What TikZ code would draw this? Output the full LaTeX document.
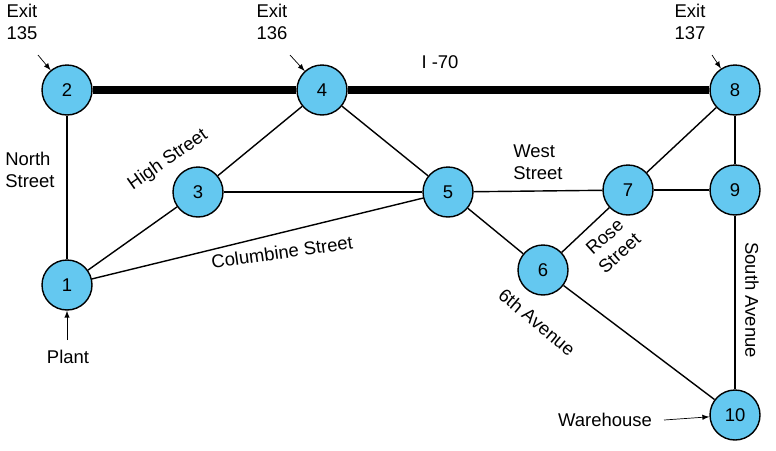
\documentclass[tikz,border=0pt]{standalone}
\usepackage{fontspec}
\setmainfont{Liberation Sans}
\usepackage{tikz}
\usetikzlibrary{arrows,positioning}
\definecolor{junction}{RGB}{100,200,240}

\tikzset{
  site/.style={circle,draw=black,thick,fill=junction,minimum size=1cm,inner sep=0pt,font=\fontsize{10.5}{12}\selectfont},
  road/.style={thick},
  highway/.style={line width=4pt},
  tag/.style={font=\fontsize{10.5}{12.5}\selectfont,align=left,inner sep=1pt},
  pointer/.style={-latex}
}

\begin{document}
\begin{tikzpicture}[x=0.02cm,y=-0.02cm]
    \useasboundingbox (0,0) rectangle (776,450);
    % junctions
    \node[site] (n1) at (67,285) {1};
    \node[site] (n2) at (67,90) {2};
    \node[site] (n3) at (198,192) {3};
    \node[site] (n4) at (322,90) {4};
    \node[site] (n5) at (448,192) {5};
    \node[site] (n6) at (543,270) {6};
    \node[site] (n7) at (628,190) {7};
    \node[site] (n8) at (735,90) {8};
    \node[site] (n9) at (735,190) {9};
    \node[site] (n10) at (735,415) {10};
    % roads
    \draw[highway] (n2) -- (n4);
    \draw[highway] (n4) -- (n8);
    \draw[road] (n1) -- (n2);
    \draw[road] (n1) -- (n3);
    \draw[road] (n1) -- (n5);
    \draw[road] (n3) -- (n4);
    \draw[road] (n3) -- (n5);
    \draw[road] (n4) -- (n5);
    \draw[road] (n5) -- (n7);
    \draw[road] (n5) -- (n6);
    \draw[road] (n6) -- (n7);
    \draw[road] (n6) -- (n10);
    \draw[road] (n7) -- (n8);
    \draw[road] (n7) -- (n9);
    \draw[road] (n8) -- (n9);
    \draw[road] (n9) -- (n10);
    % labels
    \node[tag] (x135) at (22,22) {Exit\\135};
    \node[tag] (x136) at (272,22) {Exit\\136};
    \node[tag] (x137) at (690,22) {Exit\\137};
    \coordinate (a135) at (38,55);
    \coordinate (a136) at (290,55);
    \coordinate (a137) at (712,55);
    \draw[pointer] (a135) -- (n2);
    \draw[pointer] (a136) -- (n4);
    \draw[pointer] (a137) -- (n8);
    \node[tag] (i70) at (440,62) {I -70};
    \node[tag] (north) at (30,170) {North\\Street};
    \node[tag,rotate=35] (high) at (168,160) {High Street};
    \node[tag] (west) at (538,162) {West\\Street};
    \node[tag,rotate=8] (colum) at (282,252) {Columbine Street};
    \node[tag,rotate=42,align=center] (rose) at (612,245) {Rose\\Street};
    \node[tag,rotate=-40] (sixth) at (537,322) {6th Avenue};
    \node[tag,rotate=-90] (south) at (752,300) {South Avenue};
    \node[tag] (plant) at (68,357) {Plant};
    \coordinate (aplant) at (67,340);
    \draw[pointer] (aplant) -- (n1);
    \node[tag] (ware) at (605,420) {Warehouse};
    \coordinate (aware) at (664,420);
    \draw[pointer] (aware) -- (n10);
\end{tikzpicture}
\end{document}
